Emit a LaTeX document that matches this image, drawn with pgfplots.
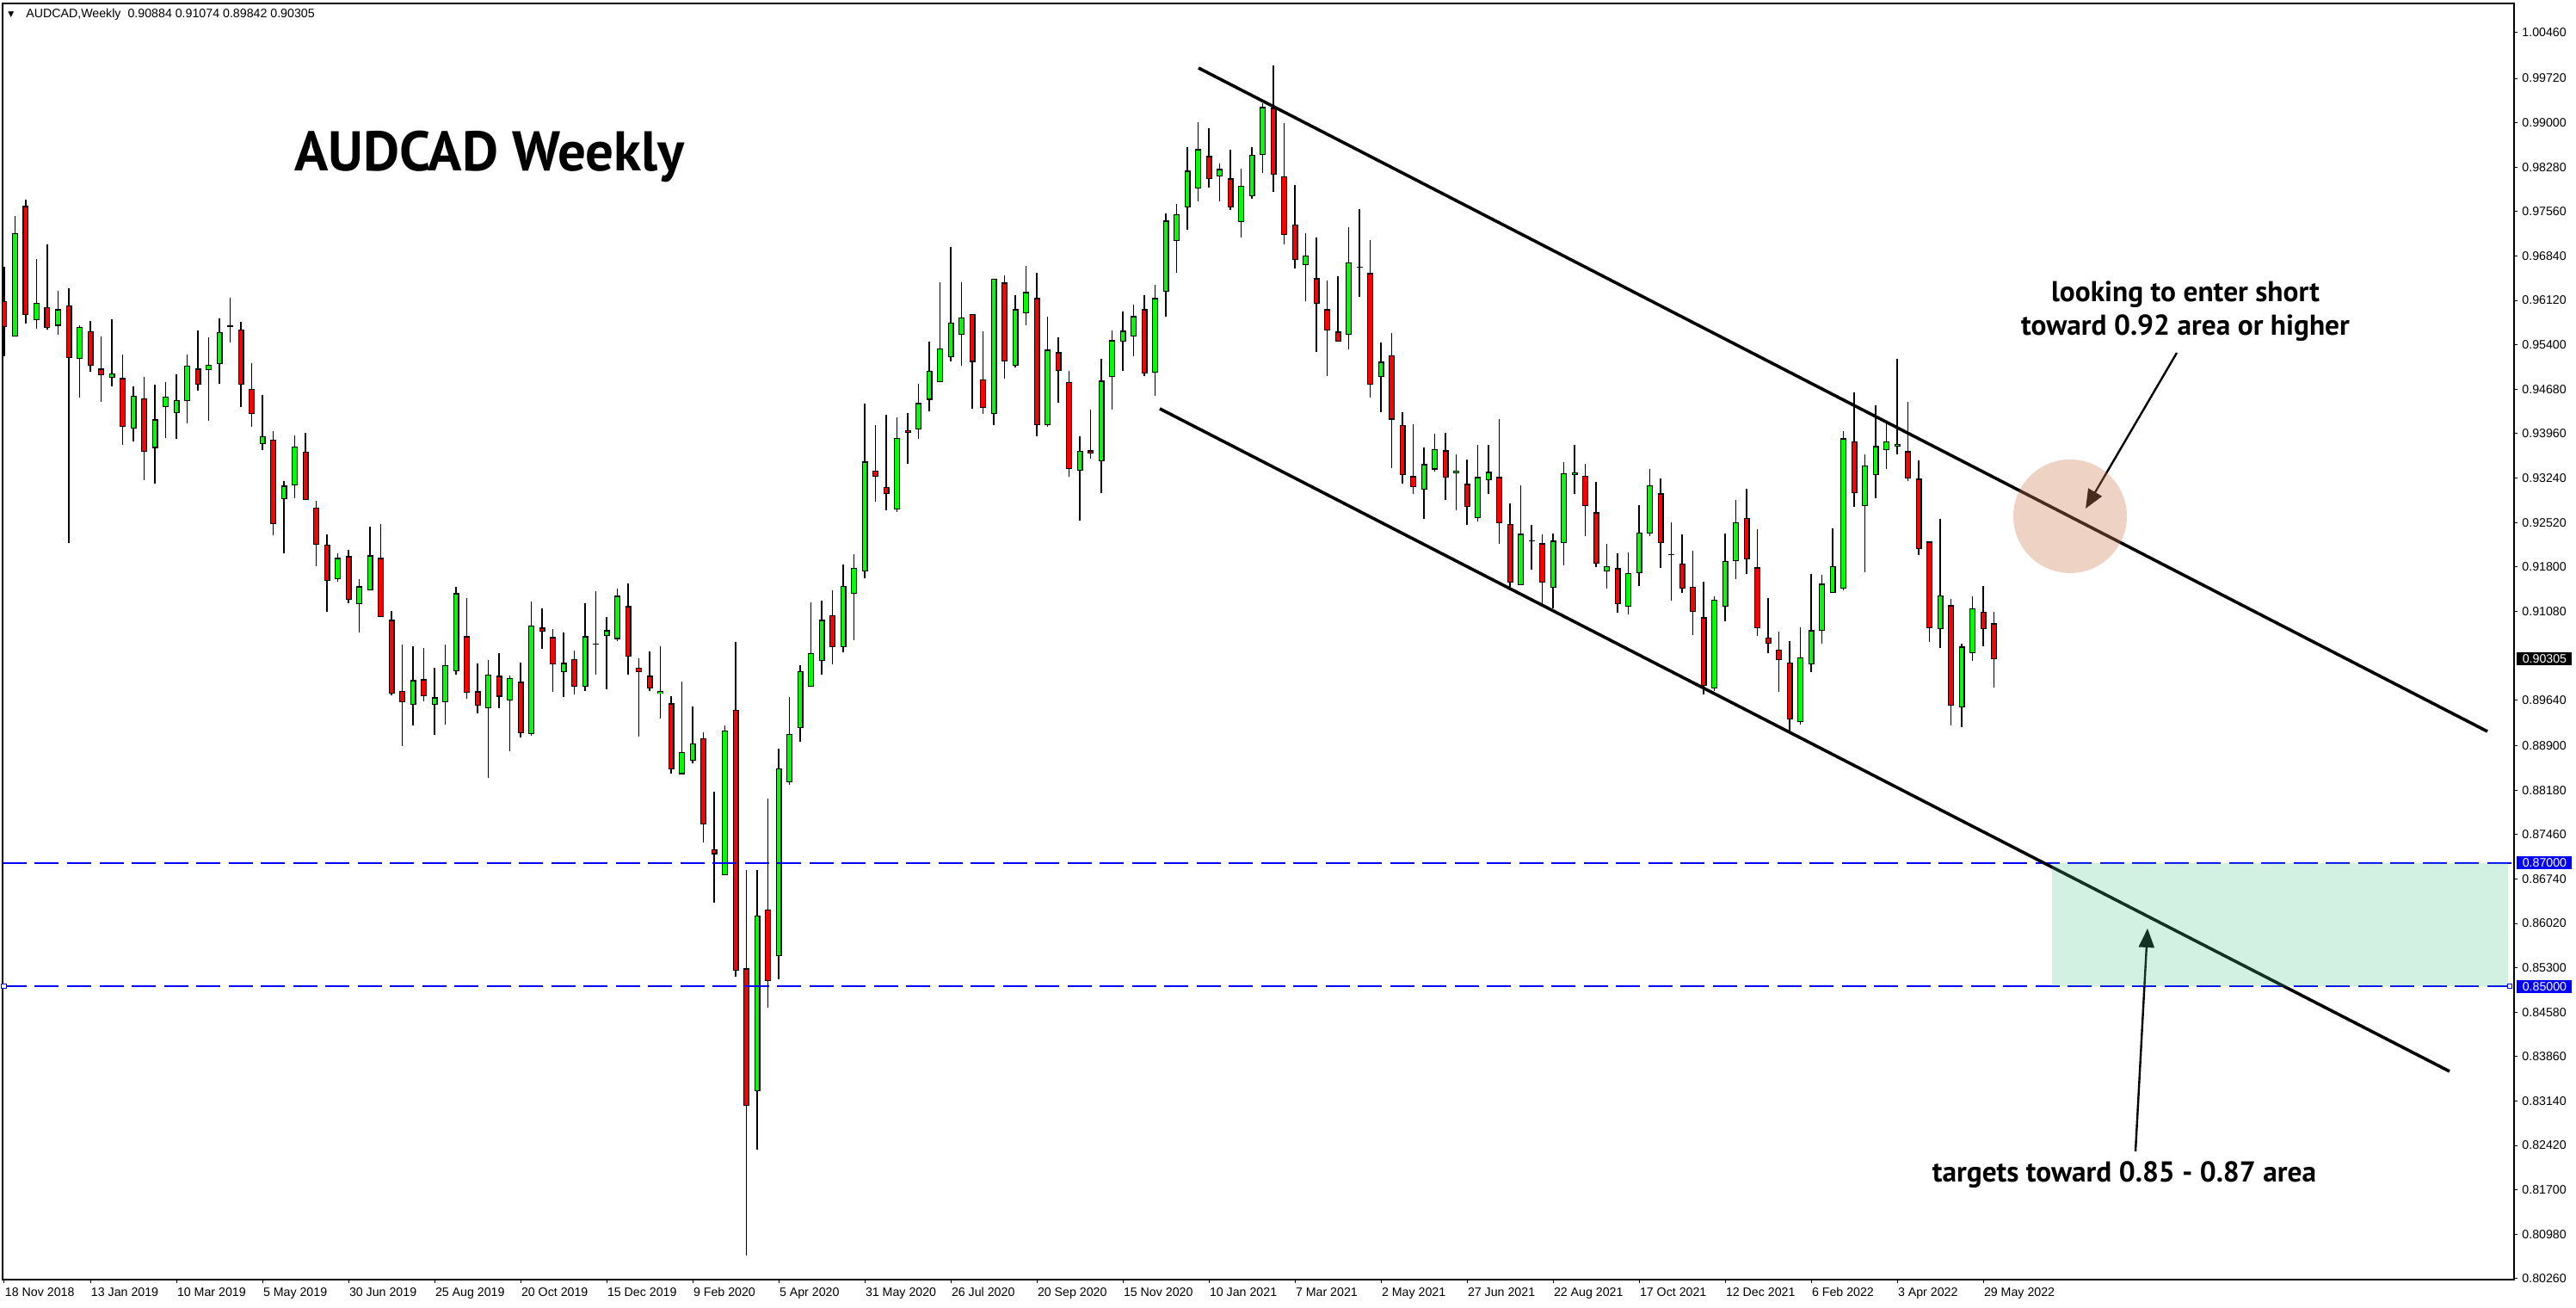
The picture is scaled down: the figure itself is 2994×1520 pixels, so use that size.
\documentclass[border=0pt]{standalone}
\usepackage{pgfplots}
\pgfplotsset{compat=1.18}
\usepackage{pgfplotstable}
\usepackage{fontspec}
\setmainfont{Liberation Sans}
\newfontfamily\annfont{PT Sans}
\newfontfamily\symfont{DejaVu Sans}
\usetikzlibrary{calc,arrows.meta}
\newcommand{\tickfont}{\fontsize{7.1pt}{8pt}\selectfont}
\definecolor{bullg}{RGB}{0,255,0}
\definecolor{bearr}{RGB}{255,0,0}
\definecolor{hblue}{RGB}{0,0,255}
\definecolor{peach}{RGB}{205,129,89}
\definecolor{mint}{RGB}{80,200,140}

\pgfplotstableread{
i o h l c
1 0.95531 0.97486 0.95531 0.97216
3 0.95801 0.96793 0.95666 0.96083
5 0.95707 0.96282 0.95566 0.95977
7 0.95172 0.95713 0.94550 0.95695
10 0.94861 0.95813 0.94732 0.94932
12 0.94039 0.94720 0.93828 0.94579
14 0.93728 0.94761 0.93152 0.94192
15 0.94391 0.94802 0.93892 0.94562
16 0.94291 0.94920 0.93880 0.94509
17 0.94491 0.95237 0.94133 0.95061
19 0.94990 0.95519 0.94162 0.95078
20 0.95084 0.95830 0.94773 0.95607
21 0.95689 0.96165 0.95431 0.95713
24 0.93786 0.94585 0.93698 0.93921
26 0.92894 0.93193 0.92025 0.93117
27 0.93117 0.93927 0.92917 0.93751
31 0.91597 0.92020 0.91564 0.91946
33 0.91192 0.91602 0.90737 0.91485
34 0.91416 0.92450 0.91416 0.91988
38 0.89560 0.90514 0.89235 0.89965
40 0.89560 0.90165 0.89081 0.89686
41 0.89602 0.90541 0.89249 0.90202
42 0.90104 0.91476 0.90058 0.91374
45 0.89505 0.90290 0.88384 0.90049
47 0.89630 0.90039 0.88816 0.90002
49 0.89086 0.91239 0.89058 0.90853
52 0.90090 0.90737 0.89695 0.90244
54 0.89853 0.91211 0.89793 0.90676
55 0.90551 0.91406 0.90058 0.90551
56 0.90676 0.90988 0.89821 0.90774
57 0.90630 0.91448 0.90602 0.91332
61 0.89742 0.90514 0.89346 0.89788
63 0.88440 0.89941 0.88440 0.88802
64 0.88653 0.89537 0.88621 0.88941
67 0.86801 0.89228 0.86801 0.89153
70 0.83299 0.86886 0.82351 0.86152
72 0.85492 0.88855 0.85119 0.88536
73 0.88313 0.89696 0.88270 0.89090
74 0.89185 0.90207 0.88962 0.90112
75 0.89856 0.91219 0.89856 0.90399
76 0.90271 0.91251 0.90058 0.90942
78 0.90495 0.91836 0.90420 0.91495
79 0.91357 0.92006 0.90612 0.91783
80 0.91730 0.94444 0.91612 0.93507
83 0.92730 0.94220 0.92688 0.93890
85 0.94029 0.94774 0.93880 0.94455
86 0.94508 0.95455 0.94316 0.94976
87 0.94795 0.96413 0.94795 0.95338
88 0.95200 0.96988 0.95136 0.95764
89 0.95562 0.96413 0.95061 0.95839
92 0.94284 0.96467 0.94103 0.96467
94 0.95057 0.96200 0.95029 0.95977
95 0.95908 0.96679 0.95722 0.96256
97 0.94094 0.95852 0.94075 0.95322
100 0.93359 0.93913 0.92550 0.93676
102 0.93513 0.95173 0.93001 0.94819
103 0.94880 0.95633 0.94354 0.95475
104 0.95447 0.95940 0.94982 0.95629
105 0.95536 0.96052 0.95219 0.95866
107 0.94950 0.96368 0.94578 0.96159
108 0.96256 0.97526 0.95861 0.97414
109 0.97084 0.97684 0.96572 0.97521
110 0.97623 0.98605 0.97270 0.98223
111 0.97935 0.99009 0.97730 0.98572
113 0.98126 0.98339 0.97730 0.98251
115 0.97391 0.98256 0.97144 0.97981
116 0.97805 0.98605 0.97772 0.98484
117 0.98479 0.99316 0.98191 0.99256
121 0.96693 0.97210 0.96103 0.96851
125 0.95559 0.97307 0.95331 0.96740
126 0.96661 0.97600 0.96177 0.96661
128 0.94875 0.95438 0.94313 0.95126
132 0.93052 0.93736 0.92583 0.93466
133 0.93378 0.93955 0.93350 0.93713
135 0.93317 0.93624 0.92722 0.93364
137 0.92587 0.93778 0.92541 0.93257
138 0.93206 0.93778 0.92987 0.93341
141 0.91499 0.93122 0.91499 0.92336
142 0.92225 0.92480 0.91760 0.92225
144 0.91462 0.92341 0.91123 0.92225
145 0.92183 0.93499 0.91829 0.93322
146 0.93290 0.93778 0.92987 0.93336
149 0.91723 0.92174 0.91444 0.91816
151 0.91160 0.92034 0.91034 0.91704
152 0.91699 0.92801 0.91495 0.92360
153 0.92341 0.93387 0.92294 0.93118
155 0.92002 0.92518 0.91258 0.92002
159 0.89830 0.91318 0.89783 0.91271
160 0.91155 0.92341 0.90913 0.91899
161 0.91895 0.92885 0.91597 0.92527
167 0.89281 0.90820 0.89239 0.90328
168 0.90221 0.91685 0.90100 0.90774
169 0.90765 0.91671 0.90560 0.91527
170 0.91374 0.92425 0.91374 0.91816
171 0.91444 0.94001 0.91416 0.93885
173 0.92783 0.93624 0.91718 0.93448
174 0.93290 0.94424 0.92913 0.93759
175 0.93689 0.94122 0.93392 0.93838
176 0.93750 0.95173 0.93629 0.93796
180 0.90788 0.92583 0.90490 0.91332
182 0.89523 0.90555 0.89198 0.90509
183 0.90397 0.91327 0.90281 0.91123
}\bull

\pgfplotstableread{
i o h l c
0 0.96112 0.96670 0.95219 0.95689
2 0.97651 0.97751 0.95748 0.95883
4 0.96006 0.97028 0.95642 0.95672
6 0.96042 0.96318 0.92195 0.95184
8 0.95625 0.95783 0.94967 0.95061
9 0.95014 0.95542 0.94479 0.94902
11 0.94861 0.95237 0.93781 0.94074
13 0.94532 0.94885 0.93205 0.93669
18 0.95014 0.95631 0.94661 0.94750
22 0.95648 0.95771 0.94385 0.94750
23 0.94685 0.95108 0.94074 0.94280
25 0.93863 0.93998 0.92312 0.92488
28 0.93669 0.93974 0.92882 0.92882
29 0.92765 0.92870 0.91807 0.92160
30 0.92160 0.92324 0.91067 0.91572
32 0.91974 0.92076 0.91216 0.91262
35 0.91946 0.92500 0.90983 0.90983
36 0.90941 0.91085 0.89714 0.89742
37 0.89784 0.90541 0.88900 0.89602
39 0.89979 0.90486 0.89625 0.89700
43 0.90676 0.91295 0.89667 0.89756
44 0.89784 0.90235 0.89430 0.89546
46 0.90035 0.90402 0.89514 0.89695
48 0.89937 0.90248 0.89039 0.89100
50 0.90816 0.91127 0.90476 0.90746
51 0.90662 0.90793 0.89779 0.90216
53 0.90309 0.90444 0.89737 0.89853
58 0.91165 0.91532 0.90058 0.90341
59 0.90160 0.90318 0.89053 0.90090
60 0.90035 0.90430 0.89793 0.89825
62 0.89588 0.89704 0.88454 0.88514
65 0.89026 0.89122 0.87333 0.87621
66 0.87227 0.88153 0.86364 0.87142
68 0.89483 0.90591 0.85162 0.85257
69 0.85289 0.86886 0.80637 0.83065
71 0.86247 0.88046 0.84661 0.85087
77 0.91016 0.91421 0.90218 0.90495
81 0.93358 0.94093 0.92858 0.93262
82 0.93092 0.94263 0.92720 0.92986
84 0.94018 0.94295 0.93465 0.93976
90 0.95902 0.95902 0.94370 0.95125
91 0.94838 0.95615 0.94284 0.94380
93 0.96410 0.96521 0.94857 0.95126
96 0.96159 0.96568 0.93922 0.94094
98 0.95280 0.95522 0.94466 0.94973
99 0.94801 0.94973 0.93266 0.93383
101 0.93689 0.94350 0.93550 0.93638
106 0.95977 0.96200 0.94898 0.94931
112 0.98460 0.98911 0.97954 0.98088
114 0.98098 0.98563 0.97582 0.97623
118 0.99242 0.99930 0.97884 0.98153
119 0.98135 0.98990 0.97033 0.97177
120 0.97354 0.97991 0.96642 0.96777
122 0.96479 0.97140 0.95289 0.96061
123 0.95977 0.96442 0.94898 0.95629
124 0.95615 0.96512 0.95452 0.95452
127 0.96563 0.97093 0.94550 0.94750
129 0.95233 0.95591 0.93397 0.94187
130 0.94103 0.94308 0.93155 0.93285
131 0.93271 0.94113 0.92987 0.93090
134 0.93689 0.93973 0.92885 0.93248
136 0.93145 0.93541 0.92485 0.92769
139 0.93257 0.94196 0.92178 0.92504
140 0.92494 0.92829 0.91481 0.91550
143 0.92183 0.92327 0.91202 0.91541
147 0.93276 0.93466 0.92304 0.92787
148 0.92685 0.93178 0.91802 0.91853
150 0.91778 0.92020 0.91062 0.91197
154 0.92992 0.93234 0.91788 0.92183
156 0.91857 0.92327 0.91383 0.91444
157 0.91481 0.92062 0.90690 0.91072
158 0.90983 0.91560 0.89737 0.89876
162 0.92597 0.93062 0.91681 0.91922
163 0.91792 0.92411 0.90686 0.90806
164 0.90658 0.91295 0.90397 0.90551
165 0.90462 0.90751 0.89779 0.90286
166 0.90244 0.90597 0.89132 0.89328
172 0.93838 0.94629 0.92773 0.92992
177 0.93676 0.94475 0.93187 0.93234
178 0.93229 0.93527 0.91992 0.92090
179 0.92211 0.92211 0.90588 0.90806
181 0.91178 0.91281 0.89235 0.89546
184 0.91076 0.91490 0.90518 0.90788
185 0.90884 0.91074 0.89842 0.90305
}\bear

\pgfplotsset{
  wick/.style={draw=none, mark=none, forget plot,
    error bars/.cd, y dir=both, y explicit, error mark=none,
    error bar style={draw=black, solid, line width=0.7pt}},
  bodyout/.style={draw=none, mark=none, forget plot,
    error bars/.cd, y dir=both, y explicit, error mark=none,
    error bar style={draw=black, solid, line width=3.5pt}},
  bodyin/.style={draw=none, mark=none, forget plot,
    error bars/.cd, y dir=both, y explicit, error mark=none,
    error bar style={draw=#1, solid, line width=2.3pt}},
}

\begin{document}
\begin{tikzpicture}
\begin{axis}[
  name=ax,
  scale only axis,
  width=1459.5pt, height=741.5pt,
  xmin=-0.16, xmax=233.36,
  ymin=0.802452, ymax=1.009343,
  axis line style={line width=0.8pt, black},
  tick style={black, line width=0.5pt},
  major tick length=2pt,
  tick align=outside,
  xtick pos=left, ytick pos=right,
  yticklabel pos=right,
  xtick={0,8,...,184},
  xticklabels={18 Nov 2018,13 Jan 2019,10 Mar 2019,5 May 2019,30 Jun 2019,25 Aug 2019,20 Oct 2019,15 Dec 2019,9 Feb 2020,5 Apr 2020,31 May 2020,26 Jul 2020,20 Sep 2020,15 Nov 2020,10 Jan 2021,7 Mar 2021,2 May 2021,27 Jun 2021,22 Aug 2021,17 Oct 2021,12 Dec 2021,6 Feb 2022,3 Apr 2022,29 May 2022},
  ytick={1.0046,0.9972,0.99,0.9828,0.9756,0.9684,0.9612,0.954,0.9468,0.9396,0.9324,0.9252,0.918,0.9108,0.8964,0.889,0.8818,0.8746,0.8674,0.8602,0.853,0.8458,0.8386,0.8314,0.8242,0.817,0.8098,0.8026},
  yticklabels={1.00460,0.99720,0.99000,0.98280,0.97560,0.96840,0.96120,0.95400,0.94680,0.93960,0.93240,0.92520,0.91800,0.91080,0.89640,0.88900,0.88180,0.87460,0.86740,0.86020,0.85300,0.84580,0.83860,0.83140,0.82420,0.81700,0.80980,0.80260},
  xticklabel style={anchor=north west, inner sep=0pt, xshift=0.3pt, yshift=-2.5pt, font=\tickfont},
  yticklabel style={anchor=west, inner sep=0pt, xshift=2.5pt, font=\tickfont},
]
% wicks
\addplot[wick] table[x=i, y expr={(\thisrow{h}+\thisrow{l})/2}, y error expr={(\thisrow{h}-\thisrow{l})/2}] {\bull};
\addplot[wick] table[x=i, y expr={(\thisrow{h}+\thisrow{l})/2}, y error expr={(\thisrow{h}-\thisrow{l})/2}] {\bear};
% body outlines
\addplot[bodyout] table[x=i, y expr={(\thisrow{o}+\thisrow{c})/2}, y error expr={max(abs(\thisrow{c}-\thisrow{o})/2,0.00008)}] {\bull};
\addplot[bodyout] table[x=i, y expr={(\thisrow{o}+\thisrow{c})/2}, y error expr={max(abs(\thisrow{c}-\thisrow{o})/2,0.00008)}] {\bear};
% body fills
\addplot[bodyin=bullg] table[x=i, y expr={(\thisrow{o}+\thisrow{c})/2}, y error expr={max(abs(\thisrow{c}-\thisrow{o})/2-0.000167,0)}] {\bull};
\addplot[bodyin=bearr] table[x=i, y expr={(\thisrow{o}+\thisrow{c})/2}, y error expr={max(abs(\thisrow{c}-\thisrow{o})/2-0.000167,0)}] {\bear};
% horizontal levels
\addplot[hblue, line width=0.75pt, dash pattern=on 14pt off 4.75pt, forget plot] coordinates {(-0.16,0.87) (233.36,0.87)};
\addplot[hblue, line width=0.75pt, dash pattern=on 14pt off 4.75pt, forget plot] coordinates {(-0.16,0.85) (233.36,0.85)};
\addplot[only marks, mark=square*, mark size=1.4pt, mark options={draw=hblue, fill=white, line width=0.5pt, solid}, forget plot] coordinates {(-0.02,0.85) (232.96,0.85)};
% channel
\addplot[black, line width=1.8pt, forget plot] coordinates {(111.04,0.99888) (230.88,0.89132)};
\addplot[black, line width=1.8pt, forget plot] coordinates {(107.44,0.94364) (227.36,0.83621)};
% arrows
\draw[black, line width=1.2pt, -{Triangle[length=11pt, width=9pt]}] (axis cs:202.0,0.95270) -- (axis cs:193.52,0.92745);
\draw[black, line width=1.2pt, -{Triangle[length=11pt, width=9pt]}] (axis cs:198.16,0.82324) -- (axis cs:199.28,0.85937);
% zones
\fill[mint, fill opacity=0.25] (axis cs:190.4,0.87) rectangle (axis cs:232.8,0.85);
\fill[peach, fill opacity=0.35] (axis cs:192.08,0.92620) circle[radius=33pt];
% texts
\node[anchor=base, inner sep=0pt, font={\annfont\bfseries\fontsize{32.5pt}{38pt}\selectfont}] at (axis cs:45.12,0.98214) {AUDCAD Weekly};
\node[anchor=base, inner sep=0pt, font={\annfont\bfseries\fontsize{16.7pt}{19pt}\selectfont}] at (axis cs:202.8,0.96107) {looking to enter short};
\node[anchor=base, inner sep=0pt, font={\annfont\bfseries\fontsize{16.7pt}{19pt}\selectfont}] at (axis cs:202.8,0.95563) {toward 0.92 area or higher};
\node[anchor=base, inner sep=0pt, font={\annfont\bfseries\fontsize{16.7pt}{19pt}\selectfont}] at (axis cs:197.12,0.81822) {targets toward 0.85 - 0.87 area};
\end{axis}
\begin{scope}[shift={($(ax.south west)+(-1.5pt,743.5pt)$)}, x=0.5pt, y=-0.5pt]
  \path (0,0) rectangle (2994,1520);
  \node[anchor=base west, inner sep=0pt, font=\tickfont] at (30,21) {AUDCAD,Weekly\hspace{4pt}0.90884 0.91074 0.89842 0.90305};
  \node[anchor=base west, inner sep=0pt, font={\symfont\fontsize{4.5pt}{5pt}\selectfont}] at (9,19.5) {▼};
  \node[anchor=west, fill=hblue, text=white, inner sep=0pt, minimum width=32pt, minimum height=7.5pt, font=\tickfont] at (2925,1002.8) {0.87000};
  \node[anchor=west, fill=hblue, text=white, inner sep=0pt, minimum width=32pt, minimum height=7.5pt, font=\tickfont] at (2925,1146.2) {0.85000};
  \node[anchor=west, fill=black, text=white, inner sep=0pt, minimum width=32pt, minimum height=7.5pt, font=\tickfont] at (2925,765.9) {0.90305};
\end{scope}
\end{tikzpicture}
\end{document}
